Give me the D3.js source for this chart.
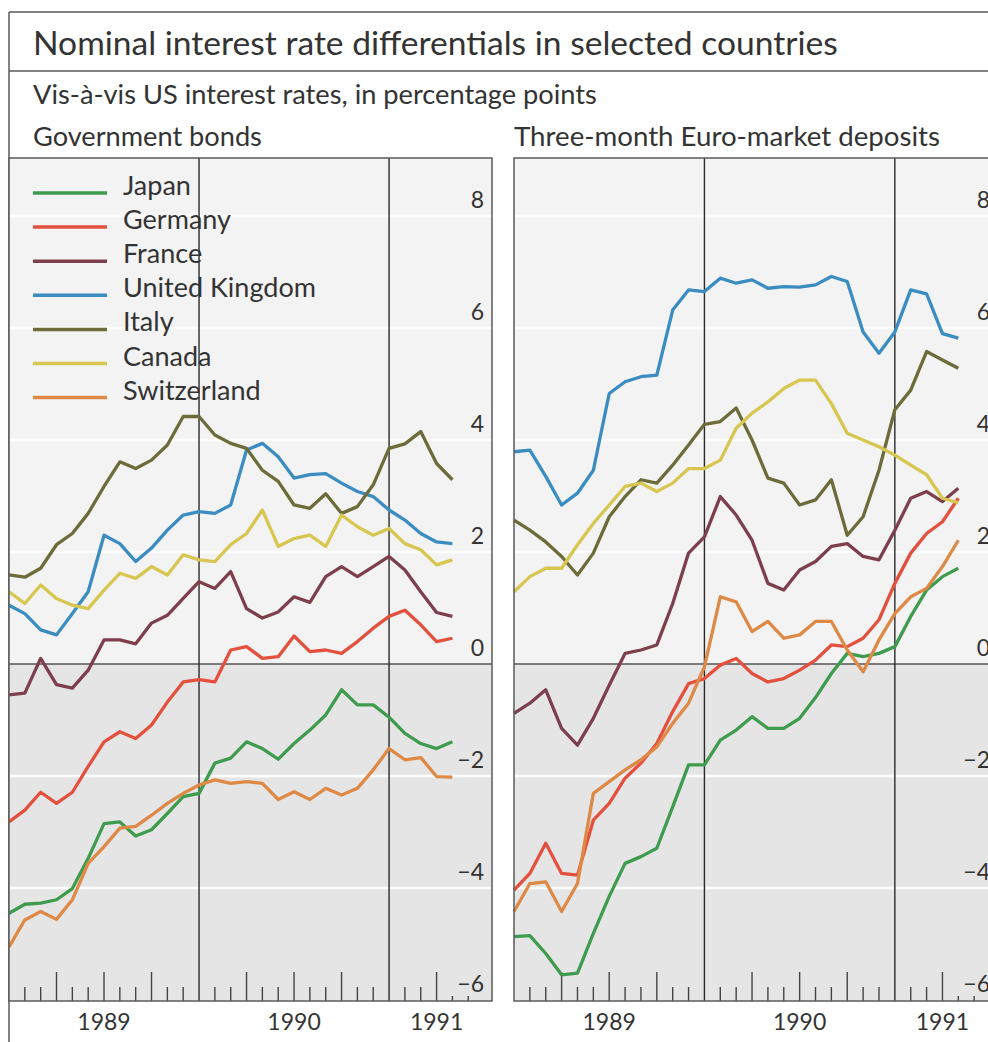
<!DOCTYPE html>
<html>
<head>
<meta charset="utf-8">
<script src="https://cdn.jsdelivr.net/npm/d3@7"></script>
<style>
  html, body { margin: 0; padding: 0; background: #fff; }
  svg { display: block; font-family: Lato, "Open Sans", sans-serif; }
</style>
</head>
<body>
<svg id="chart" width="988" height="1042"></svg>
<script>
// Monthly observations, January 1989 to May 1991
const months = [
  "Jan 1989","Feb 1989","Mar 1989","Apr 1989","May 1989","Jun 1989",
  "Jul 1989","Aug 1989","Sep 1989","Oct 1989","Nov 1989","Dec 1989",
  "Jan 1990","Feb 1990","Mar 1990","Apr 1990","May 1990","Jun 1990",
  "Jul 1990","Aug 1990","Sep 1990","Oct 1990","Nov 1990","Dec 1990",
  "Jan 1991","Feb 1991","Mar 1991","Apr 1991","May 1991"
];
const countries = ["Japan", "Germany", "France", "United Kingdom", "Italy", "Canada", "Switzerland"];
const colors = ["#3f9b4e", "#e4503e", "#7d3e4d", "#3a8cc1", "#6c6b39", "#d7c650", "#de8945"];
const yTicks = [8, 6, 4, 2, 0, -2, -4, -6];
const yearLabels = ["1989", "1990", "1991"];
const yearLabelMonth = [6, 18, 27];
const yearBreakMonth = [12, 24];

// Government bonds: differential vis-a-vis US, percentage points
const bondsJapan   = [-4.45,-4.29,-4.27,-4.21,-4.01,-3.47,-2.85,-2.82,-3.07,-2.96,-2.67,-2.37,-2.31,-1.77,-1.68,-1.39,-1.51,-1.70,-1.42,-1.18,-0.91,-0.46,-0.73,-0.73,-0.95,-1.24,-1.42,-1.51,-1.39];
const bondsGermany = [-2.82,-2.61,-2.29,-2.49,-2.29,-1.83,-1.39,-1.21,-1.33,-1.09,-0.68,-0.32,-0.28,-0.32,0.25,0.31,0.10,0.13,0.50,0.22,0.25,0.19,0.40,0.64,0.85,0.96,0.70,0.40,0.46];
const bondsFrance  = [-0.55,-0.52,0.10,-0.37,-0.43,-0.11,0.43,0.43,0.36,0.73,0.87,1.17,1.47,1.35,1.65,0.99,0.82,0.93,1.20,1.10,1.56,1.74,1.56,1.74,1.92,1.68,1.29,0.92,0.85];
const bondsUK      = [1.05,0.90,0.61,0.52,0.90,1.29,2.30,2.15,1.83,2.07,2.39,2.66,2.72,2.69,2.84,3.82,3.94,3.70,3.32,3.38,3.40,3.23,3.08,2.99,2.75,2.57,2.33,2.18,2.15];
const bondsItaly   = [1.59,1.55,1.71,2.13,2.33,2.69,3.17,3.61,3.49,3.64,3.91,4.42,4.42,4.09,3.94,3.85,3.46,3.26,2.84,2.78,3.04,2.69,2.81,3.20,3.85,3.93,4.15,3.58,3.29];
const bondsCanada  = [1.29,1.08,1.41,1.17,1.05,0.99,1.32,1.62,1.53,1.74,1.59,1.95,1.86,1.83,2.13,2.33,2.75,2.10,2.24,2.30,2.10,2.66,2.45,2.30,2.42,2.15,2.04,1.77,1.86];
const bondsSwiss   = [-5.05,-4.57,-4.42,-4.56,-4.21,-3.56,-3.26,-2.93,-2.90,-2.70,-2.49,-2.31,-2.16,-2.07,-2.13,-2.10,-2.13,-2.42,-2.28,-2.42,-2.22,-2.34,-2.22,-1.89,-1.51,-1.71,-1.67,-2.01,-2.02];

// Three-month Euro-market deposits: differential vis-a-vis US, percentage points
const depoJapan   = [-4.87,-4.85,-5.17,-5.55,-5.52,-4.81,-4.15,-3.56,-3.44,-3.29,-2.55,-1.80,-1.80,-1.36,-1.18,-0.94,-1.15,-1.15,-0.97,-0.60,-0.17,0.19,0.13,0.19,0.31,0.85,1.32,1.56,1.71];
const depoGermany = [-4.04,-3.74,-3.20,-3.74,-3.77,-2.79,-2.49,-2.04,-1.77,-1.42,-0.85,-0.35,-0.26,-0.02,0.10,-0.17,-0.32,-0.26,-0.11,0.07,0.34,0.31,0.46,0.79,1.44,1.98,2.33,2.54,2.96];
const depoFrance  = [-0.88,-0.70,-0.46,-1.15,-1.45,-0.97,-0.38,0.19,0.25,0.34,1.08,1.98,2.27,2.99,2.66,2.21,1.44,1.32,1.68,1.83,2.10,2.15,1.92,1.86,2.39,2.96,3.08,2.90,3.14];
const depoUK      = [3.79,3.82,3.35,2.84,3.05,3.46,4.83,5.04,5.13,5.16,6.32,6.68,6.65,6.89,6.80,6.86,6.71,6.74,6.73,6.77,6.92,6.83,5.93,5.55,5.93,6.68,6.61,5.90,5.82];
const depoItaly   = [2.57,2.39,2.18,1.92,1.59,1.98,2.63,2.99,3.29,3.23,3.55,3.91,4.28,4.33,4.57,4.00,3.32,3.23,2.84,2.93,3.29,2.30,2.63,3.46,4.54,4.89,5.58,5.43,5.28];
const depoCanada  = [1.29,1.56,1.71,1.71,2.13,2.51,2.84,3.17,3.23,3.08,3.23,3.49,3.49,3.64,4.21,4.48,4.68,4.92,5.07,5.07,4.65,4.12,4.00,3.88,3.73,3.55,3.38,2.96,2.88];
const depoSwiss   = [-4.42,-3.92,-3.89,-4.42,-3.92,-2.31,-2.10,-1.89,-1.71,-1.48,-1.06,-0.70,-0.05,1.20,1.11,0.58,0.76,0.46,0.52,0.76,0.76,0.25,-0.14,0.43,0.90,1.20,1.35,1.74,2.21];

const bondSeries = [bondsJapan, bondsGermany, bondsFrance, bondsUK, bondsItaly, bondsCanada, bondsSwiss];
const depoSeries = [depoJapan, depoGermany, depoFrance, depoUK, depoItaly, depoCanada, depoSwiss];

function draw() {
  const svg = d3.select("#chart");
  const ink = "#333";
  const frame = "#5a5a5a";

  // Fit a single text element to a given width
  function fitText(sel, width) {
    const len = sel.node().getComputedTextLength();
    const fs = parseFloat(sel.attr("font-size"));
    sel.attr("font-size", (fs * width / len).toFixed(2));
  }

  // Outer frame and header rules
  svg.append("line").attr("x1", 9).attr("x2", 988).attr("y1", 12).attr("y2", 12)
    .attr("stroke", frame).attr("stroke-width", 1.5);
  svg.append("line").attr("x1", 9).attr("x2", 988).attr("y1", 71).attr("y2", 71)
    .attr("stroke", frame).attr("stroke-width", 1.5);
  svg.append("line").attr("x1", 9).attr("x2", 9).attr("y1", 12).attr("y2", 1042)
    .attr("stroke", frame).attr("stroke-width", 1.5);

  const title = svg.append("text").attr("x", 33).attr("y", 55)
    .attr("font-size", 28).attr("fill", ink)
    .text("Nominal interest rate differentials in selected countries");
  fitText(title, 805);

  const sub = svg.append("text").attr("x", 33).attr("y", 104)
    .attr("font-size", 22).attr("fill", ink)
    .text("Vis-à-vis US interest rates, in percentage points");
  fitText(sub, 564);

  const top = 158, bottom = 1001;
  const y = d3.scaleLinear().domain([-6, 8]).range([1000, 216]);

  const panels = [
    { title: "Government bonds", titleWidth: 229, left: 9, right: 492, series: bondSeries, legend: true },
    { title: "Three-month Euro-market deposits", titleWidth: 426, left: 514, right: 998, series: depoSeries, legend: false }
  ];

  panels.forEach(p => {
    const x = d3.scaleLinear().domain([0, 30.5]).range([p.left, p.right]);
    const g = svg.append("g");

    const pt = g.append("text").attr("x", p.left === 9 ? 33 : p.left).attr("y", 146)
      .attr("font-size", 23).attr("fill", ink).text(p.title);
    fitText(pt, p.titleWidth);

    // Shaded backgrounds: light above zero, darker below
    g.append("rect").attr("x", p.left).attr("y", top)
      .attr("width", p.right - p.left).attr("height", y(0) - top).attr("fill", "#f3f3f3");
    g.append("rect").attr("x", p.left).attr("y", y(0))
      .attr("width", p.right - p.left).attr("height", bottom - y(0)).attr("fill", "#e5e5e5");

    // White gridlines
    g.selectAll(".grid").data(yTicks.filter(v => v !== 0 && v !== -6)).enter().append("line")
      .attr("x1", p.left).attr("x2", p.right)
      .attr("y1", d => y(d)).attr("y2", d => y(d))
      .attr("stroke", "#fff").attr("stroke-width", 2.5);

    // Zero line
    g.append("line").attr("x1", p.left).attr("x2", p.right)
      .attr("y1", y(0)).attr("y2", y(0)).attr("stroke", "#555").attr("stroke-width", 1.3);

    // Year separators
    g.selectAll(".yr").data(yearBreakMonth).enter().append("line")
      .attr("x1", d => x(d)).attr("x2", d => x(d))
      .attr("y1", top).attr("y2", bottom)
      .attr("stroke", "#2a2a2a").attr("stroke-width", 1.4);

    // Month ticks along the bottom
    const tickMonths = d3.range(1, 30).filter(m => !yearBreakMonth.includes(m));
    g.selectAll(".tick").data(tickMonths).enter().append("line")
      .attr("x1", d => x(d)).attr("x2", d => x(d))
      .attr("y1", bottom)
      .attr("y2", d => bottom - (d >= 28 ? 5 : (d % 3 === 0 ? 29 : 14)))
      .attr("stroke", "#444").attr("stroke-width", 1.4);

    // Y tick labels
    g.selectAll(".ylab").data(yTicks).enter().append("text")
      .attr("x", p.right - 8).attr("y", d => y(d) - 8)
      .attr("text-anchor", "end").attr("font-size", 23).attr("fill", ink)
      .text(d => d < 0 ? "\u2212" + Math.abs(d) : d);

    // Year labels
    g.selectAll(".xlab").data(yearLabels).enter().append("text")
      .attr("x", (d, i) => x(yearLabelMonth[i])).attr("y", 1030)
      .attr("text-anchor", "middle").attr("font-size", 23).attr("fill", ink)
      .text(d => d);

    // Series lines
    const line = d3.line().x((d, i) => x(i)).y(d => y(d));
    p.series.forEach((s, i) => {
      g.append("path").datum(s).attr("d", line)
        .attr("fill", "none").attr("stroke", colors[i])
        .attr("stroke-width", 3.3).attr("stroke-linejoin", "round");
    });

    // Panel frame
    g.append("rect").attr("x", p.left).attr("y", top)
      .attr("width", p.right - p.left).attr("height", bottom - top)
      .attr("fill", "none").attr("stroke", frame).attr("stroke-width", 1.5);

    if (p.legend) {
      const lg = g.append("g");
      const rows = lg.selectAll("g").data(countries).enter().append("g")
        .attr("transform", (d, i) => `translate(0, ${195 + i * 34.1})`);
      rows.append("line").attr("x1", 33).attr("x2", 107).attr("y1", -2).attr("y2", -2)
        .attr("stroke", (d, i) => colors[i]).attr("stroke-width", 3.5);
      const labels = rows.append("text").attr("x", 123).attr("y", 0)
        .attr("font-size", 24).attr("fill", ink).text(d => d);
      const uk = labels.filter(d => d === "United Kingdom");
      const len = uk.node().getComputedTextLength();
      labels.attr("font-size", (24 * 193 / len).toFixed(2));
    }
  });
}

if (document.fonts && document.fonts.ready) {
  document.fonts.ready.then(draw);
} else {
  draw();
}
</script>
</body>
</html>
